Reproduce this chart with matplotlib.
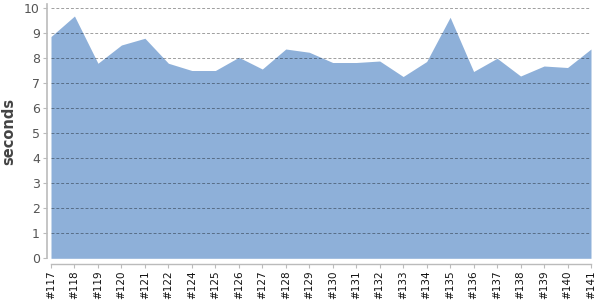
import matplotlib
matplotlib.use("Agg")
import matplotlib.pyplot as plt
import numpy as np

builds = ["#117", "#118", "#119", "#120", "#121", "#122", "#124", "#125",
          "#126", "#127", "#128", "#129", "#130", "#131", "#132", "#133",
          "#134", "#135", "#136", "#137", "#138", "#139", "#140", "#141"]
seconds = [8.87, 9.69, 7.80, 8.53, 8.80, 7.80, 7.51, 7.51,
           8.04, 7.57, 8.37, 8.24, 7.83, 7.83, 7.89, 7.27,
           7.87, 9.64, 7.47, 8.00, 7.29, 7.69, 7.63, 8.37]
yticks = list(range(0, 11))

fig = plt.figure(figsize=(6, 3), dpi=100)
ax = fig.add_axes([51/600, (300-258.3)/300, (591-51)/600, (258.3-4)/300])

x = np.arange(len(builds))
ax.fill_between(x, 0, seconds, color="#8EB0D9", linewidth=0, zorder=1)

ax.set_xlim(0, len(builds) - 1)
ax.set_ylim(0, 10.17)

for s in ["top", "right"]:
    ax.spines[s].set_visible(False)
ax.spines["left"].set_position(("outward", 3))
ax.spines["bottom"].set_position(("outward", 4))
ax.spines["left"].set_color("#bbbbbb")
ax.spines["bottom"].set_color("#bbbbbb")
ax.spines["left"].set_linewidth(1.2)
ax.spines["bottom"].set_linewidth(1.0)
ax.tick_params(axis="both", color="#bbbbbb", length=3, width=0.8, pad=2)

ax.set_yticks(yticks)
ax.set_yticklabels([str(v) for v in yticks])
ax.tick_params(axis="y", labelsize=9, labelcolor="#555555")
ax.set_xticks(x)
ax.set_xticklabels(builds)
ax.tick_params(axis="x", labelsize=7.5, labelcolor="#111111", labelrotation=90)

for v in yticks[1:]:
    ax.axhline(v, color="black", alpha=0.38, linewidth=0.7,
               linestyle=(0, (3, 2)), zorder=2)

ax.set_ylabel("seconds", fontsize=10.5, fontweight="bold", color="#444444")
ax.yaxis.set_label_coords(-0.064, 0.5)

fig.savefig("out.png", dpi=100)
